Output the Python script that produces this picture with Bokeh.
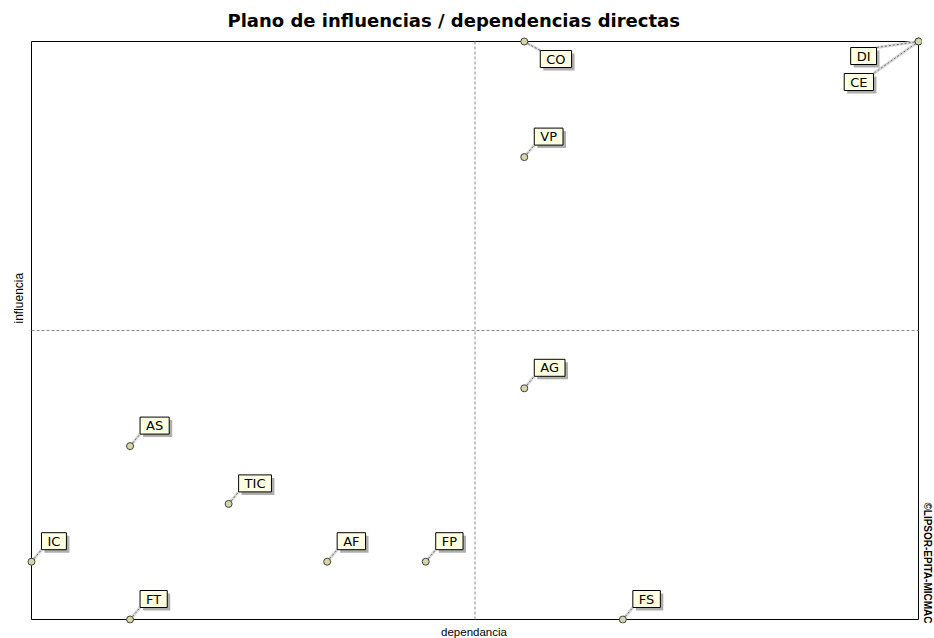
import math
from bokeh.plotting import figure
from bokeh.models import Range1d, Title, ColumnDataSource
from bokeh.core.properties import value
from bokeh.embed import file_html
from bokeh.resources import INLINE

# ---- data ----
codes = ["IC", "AS", "FT", "TIC", "AF", "FP", "CO", "VP", "AG", "FS", "DI", "CE"]
dependencia = [0, 1, 1, 2, 3, 4, 5, 5, 5, 6, 9, 9]
influencia = [1, 3, 0, 2, 1, 1, 10, 8, 4, 0, 10, 10]
x_min, x_max = 0, 9
y_min, y_max = 0, 10

title_text = "Plano de influencias / dependencias directas"
x_label = "dependancia"
y_label = "influencia"
credit = "©LIPSOR-EPITA-MICMAC"

# ---- layout / style ----
W, H = 934, 638
BL, BR, BT, BB = 26, 13, 36, 15          # borders
FW, FH = W - BL - BR, H - BT - BB        # frame size
PAD_L, PAD_R, PAD_T, PAD_B = 5, 3, 5, 4  # px between frame and drawn box
ux = (FW - PAD_L - PAD_R) / (x_max - x_min)
uy = (FH - PAD_T - PAD_B) / (y_max - y_min)

# label placement: anchor, dx, dy (screen px, dy positive = up)
placement = {c: ("bottom_left", 10, 12) for c in codes}
placement["CO"] = ("top_left", 16, -9)
placement["DI"] = ("top_right", -42, -6)
placement["CE"] = ("top_right", -45, -32)

anchors = [placement[c][0] for c in codes]
dxs = [placement[c][1] for c in codes]
dys = [placement[c][2] for c in codes]
ray_angle = [math.atan2(dy, dx) for dx, dy in zip(dxs, dys)]
ray_len = [math.hypot(dx, dy) for dx, dy in zip(dxs, dys)]

src = ColumnDataSource(dict(
    x=dependencia, y=influencia, code=codes, anchor=anchors,
    xo=dxs, yo=[-d for d in dys],
    sxo=[d + 3 for d in dxs], syo=[-d + 3 for d in dys],
    ang=ray_angle, rlen=ray_len,
))

FONT = "Liberation Sans"
LFONT = "DejaVu Sans"

p = figure(width=W, height=H, output_backend="svg", toolbar_location=None,
           x_range=Range1d(x_min - PAD_L / ux, x_max + PAD_R / ux),
           y_range=Range1d(y_min - PAD_B / uy, y_max + PAD_T / uy),
           min_border_left=BL, min_border_right=BR,
           min_border_top=BT, min_border_bottom=BB)
p.xaxis.visible = False
p.yaxis.visible = False
p.xgrid.visible = False
p.ygrid.visible = False
p.outline_line_color = None
p.background_fill_color = "white"
p.border_fill_color = "white"

p.title.text = title_text
p.title.align = "left"
p.title.offset = 201
p.title.standoff = 11
p.title.text_font = "DejaVu Sans"
p.title.text_font_style = "bold"
p.title.text_font_size = "18px"
p.title.text_color = "black"

x_mid = (x_min + x_max) / 2
y_mid = (y_min + y_max) / 2

p.add_layout(Title(text=x_label, align="center", text_font=FONT, text_font_style="normal",
                   text_font_size="11.5px", text_color="black", standoff=0), "below")
p.add_layout(Title(text=y_label, align="left", offset=300, text_font=FONT,
                   text_font_style="normal", text_font_size="12px", text_color="black",
                   standoff=2), "left")
p.add_layout(Title(text=credit, align="right", offset=0, text_font=FONT,
                   text_font_style="bold", text_font_size="10px", text_color="black",
                   standoff=0), "right")

# plot box and centre lines
p.quad(left=[x_min], right=[x_max], bottom=[y_min], top=[y_max],
       fill_color=None, line_color="black", line_width=1)
p.segment(x0=[x_mid, x_min], y0=[y_min, y_mid], x1=[x_mid, x_max], y1=[y_max, y_mid],
          line_color="#8a8a8a", line_dash="3 2", line_width=1)

# leader lines
p.ray(x="x", y="y", length="rlen", angle="ang", length_units="screen", source=src,
      line_color="#d8d8d8", line_width=3)
p.ray(x="x", y="y", length="rlen", angle="ang", length_units="screen", source=src,
      line_color="#6a6a6a", line_width=1, line_dash="2 2")

# label shadows and boxes
p.text(x="x", y="y", text="code", x_offset="sxo", y_offset="syo", anchor="anchor",
       source=src, text_font=value(LFONT), text_font_size="13px", text_alpha=0,
       padding=(6, 1), background_fill_color="#9a9a9a", background_fill_alpha=0.8)
p.text(x="x", y="y", text="code", x_offset="xo", y_offset="yo", anchor="anchor",
       source=src, text_font=value(LFONT), text_font_size="13px", text_color="black",
       padding=(6, 1), background_fill_color="#ffffe1", border_line_color="black",
       border_line_width=1)

# points
p.scatter(x="x", y="y", source=src, size=7, marker="circle",
          fill_color="#d6d6a8", line_color="#404040", line_width=1)

open("out.html", "w").write(file_html(p, INLINE))
